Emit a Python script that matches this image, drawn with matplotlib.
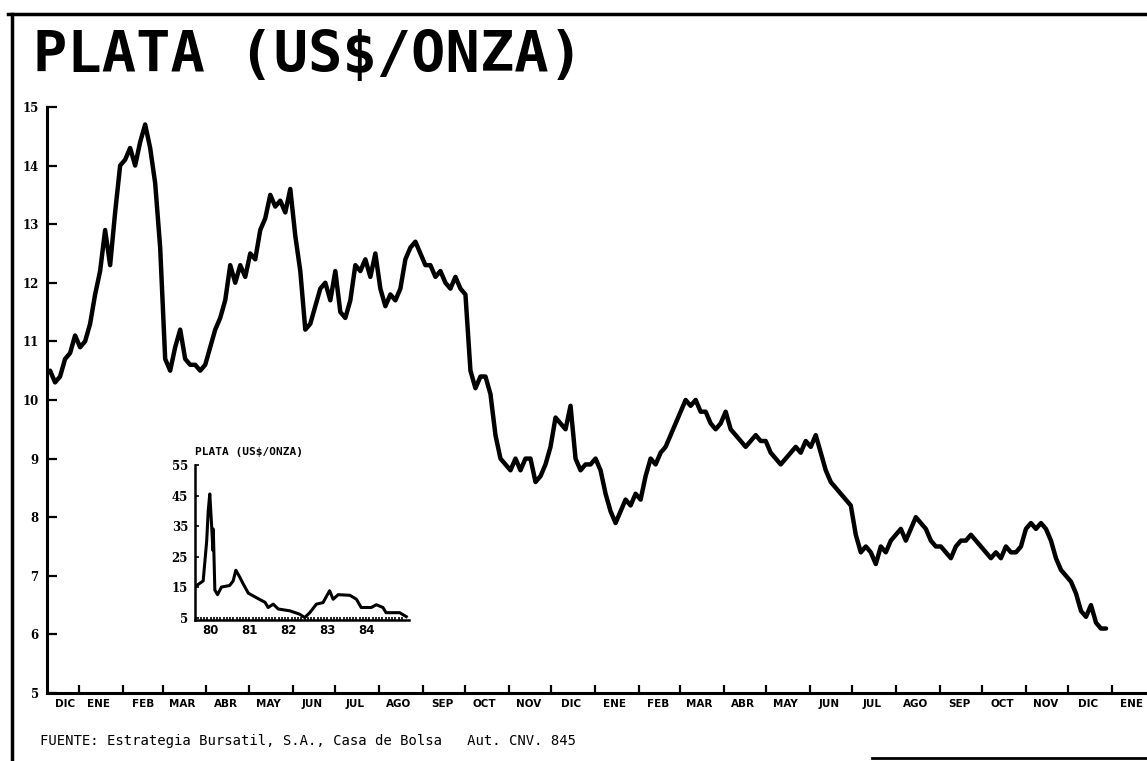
import numpy as np
import pandas as pd
import matplotlib
matplotlib.use("Agg")
import matplotlib.pyplot as plt
from matplotlib.lines import Line2D

# ---------------- data ----------------
title = "PLATA (US$/ONZA)"
footer = "FUENTE: Estrategia Bursatil, S.A., Casa de Bolsa   Aut. CNV. 845"

month_labels = ["DIC", "ENE", "FEB", "MAR", "ABR", "MAY", "JUN", "JUL", "AGO", "SEP", "OCT", "NOV",
                "DIC", "ENE", "FEB", "MAR", "ABR", "MAY", "JUN", "JUL", "AGO", "SEP", "OCT", "NOV",
                "DIC", "ENE"]
y_ticks = [5, 6, 7, 8, 9, 10, 11, 12, 13, 14, 15]

# silver price (US$/oz), Dec 1982 - Dec 1984 (~twice a week)
price = [
    10.5, 10.3, 10.4, 10.7, 10.8, 11.1, 10.9, 11.0, 11.3, 11.8,
    12.2, 12.9, 12.3, 13.2, 14.0, 14.1, 14.3, 14.0, 14.4, 14.7,
    14.3, 13.7, 12.6, 10.7, 10.5, 10.9, 11.2, 10.7, 10.6, 10.6,
    10.5, 10.6, 10.9, 11.2, 11.4, 11.7, 12.3, 12.0, 12.3, 12.1,
    12.5, 12.4, 12.9, 13.1, 13.5, 13.3, 13.4, 13.2, 13.6, 12.8,
    12.2, 11.2, 11.3, 11.6, 11.9, 12.0, 11.7, 12.2, 11.5, 11.4,
    11.7, 12.3, 12.2, 12.4, 12.1, 12.5, 11.9, 11.6, 11.8, 11.7,
    11.9, 12.4, 12.6, 12.7, 12.5, 12.3, 12.3, 12.1, 12.2, 12.0,
    11.9, 12.1, 11.9, 11.8, 10.5, 10.2, 10.4, 10.4, 10.1, 9.4,
    9.0, 8.9, 8.8, 9.0, 8.8, 9.0, 9.0, 8.6, 8.7, 8.9,
    9.2, 9.7, 9.6, 9.5, 9.9, 9.0, 8.8, 8.9, 8.9, 9.0,
    8.8, 8.4, 8.1, 7.9, 8.1, 8.3, 8.2, 8.4, 8.3, 8.7,
    9.0, 8.9, 9.1, 9.2, 9.4, 9.6, 9.8, 10.0, 9.9, 10.0,
    9.8, 9.8, 9.6, 9.5, 9.6, 9.8, 9.5, 9.4, 9.3, 9.2,
    9.3, 9.4, 9.3, 9.3, 9.1, 9.0, 8.9, 9.0, 9.1, 9.2,
    9.1, 9.3, 9.2, 9.4, 9.1, 8.8, 8.6, 8.5, 8.4, 8.3,
    8.2, 7.7, 7.4, 7.5, 7.4, 7.2, 7.5, 7.4, 7.6, 7.7,
    7.8, 7.6, 7.8, 8.0, 7.9, 7.8, 7.6, 7.5, 7.5, 7.4,
    7.3, 7.5, 7.6, 7.6, 7.7, 7.6, 7.5, 7.4, 7.3, 7.4,
    7.3, 7.5, 7.4, 7.4, 7.5, 7.8, 7.9, 7.8, 7.9, 7.8,
    7.6, 7.3, 7.1, 7.0, 6.9, 6.7, 6.4, 6.3, 6.5, 6.2,
    6.1, 6.1,
]
dates = pd.date_range("1982-12-11 09:00", periods=len(price), freq="85h")

# inset: long-term series 1979-1984
inset_years = [1979.64, 1979.81, 1979.90, 1979.94, 1979.98, 1980.03, 1980.06, 1980.07,
               1980.11, 1980.18, 1980.28, 1980.49, 1980.58, 1980.65, 1980.74, 1980.84,
               1980.97, 1981.18, 1981.40, 1981.48, 1981.61, 1981.74, 1982.04, 1982.29,
               1982.42, 1982.55, 1982.72, 1982.89, 1983.06, 1983.15, 1983.28, 1983.58,
               1983.75, 1983.87, 1984.13, 1984.26, 1984.43, 1984.51, 1984.86, 1985.03]
inset_values = [15.5, 17.0, 30.0, 40.0, 45.5, 34.5, 27.0, 34.0,
                14.0, 12.5, 15.0, 15.5, 17.0, 20.5, 18.5, 16.0,
                13.0, 11.5, 10.0, 8.3, 9.4, 7.8, 7.2, 6.1,
                5.0, 6.6, 9.4, 9.9, 13.8, 11.0, 12.5, 12.3,
                11.0, 8.3, 8.3, 9.2, 8.3, 6.6, 6.6, 5.3]
inset_yticks = [5, 15, 25, 35, 45, 55]
inset_xticks = [1980, 1981, 1982, 1983, 1984]
inset_xlabels = ["80", "81", "82", "83", "84"]

# ---------------- figure ----------------
W, H = 1147, 761
fig = plt.figure(figsize=(W / 100, H / 100), dpi=100)
fig.patch.set_facecolor("white")

def fx(px):
    return px / W

def fy(py):
    return 1 - py / H

ax = fig.add_axes([fx(47), fy(693), fx(1150) - fx(47), fy(104) - fy(693)])
ax.plot(dates, price, color="black", lw=3.2, solid_joinstyle="round", solid_capstyle="round")

x0 = pd.Timestamp("1982-12-01") + pd.Timedelta(days=8.2)
x1 = pd.Timestamp("1982-12-01") + pd.Timedelta(days=788.8)
ax.set_xlim(x0, x1)
ax.set_ylim(5, 15.05)

for s in ["top", "right"]:
    ax.spines[s].set_visible(False)
for s in ["left", "bottom"]:
    ax.spines[s].set_linewidth(2.2)
ax.spines["left"].set_bounds(5, 15)

ax.set_yticks(y_ticks)
ax.set_yticklabels([str(v) for v in y_ticks], fontsize=8.5, fontweight="bold",
                   family="DejaVu Serif")
ax.tick_params(axis="y", direction="in", length=7, width=1.6, pad=6)

month_starts = pd.date_range("1983-01-01", "1985-01-01", freq="MS")
ax.set_xticks(month_starts)
ax.set_xticklabels([])
ax.tick_params(axis="x", which="major", direction="in", length=6, width=1.6)
mids = []
for i in range(len(month_labels)):
    if i == 0:
        mids.append(pd.Timestamp(1982, 12, 22))
    else:
        yr = 1983 + (i - 1) // 12
        mo = (i - 1) % 12 + 1
        mids.append(pd.Timestamp(yr, mo, 15))
ax.set_xticks(mids, minor=True)
ax.set_xticklabels(month_labels, minor=True, fontsize=7.5, fontweight="bold")
ax.tick_params(axis="x", which="minor", length=0, pad=4)

# ---------------- inset ----------------
axi = fig.add_axes([fx(195), fy(620), fx(409) - fx(195), fy(465) - fy(620)])
axi.patch.set_alpha(0)
axi.plot(inset_years, inset_values, color="black", lw=2.2, solid_joinstyle="round")
axi.set_xlim(1979.6, 1985.1)
axi.set_ylim(4.2, 55)
for s in ["top", "right"]:
    axi.spines[s].set_visible(False)
for s in ["left", "bottom"]:
    axi.spines[s].set_linewidth(1.8)
axi.set_yticks(inset_yticks)
axi.set_yticklabels([str(v) for v in inset_yticks], fontsize=8.5, fontweight="bold",
                    family="DejaVu Serif")
axi.tick_params(axis="y", direction="in", length=3, width=1.2, pad=5)
axi.set_xticks(inset_xticks)
axi.set_xticklabels(inset_xlabels, fontsize=8.5, fontweight="bold")
axi.set_xticks(np.arange(1979.75, 1985.0, 1 / 12), minor=True)
axi.tick_params(axis="x", which="both", direction="in", length=2.5, width=1.2, pad=3)
axi.text(0.0, 1.05, title, transform=axi.transAxes, fontsize=8, fontweight="bold",
         family="DejaVu Sans Mono", ha="left", va="bottom")

# ---------------- texts & frame ----------------
fig.text(fx(33), fy(72), title, fontsize=41, family="DejaVu Sans Mono", fontweight="bold",
         ha="left", va="baseline")
fig.text(fx(40), fy(741), footer, fontsize=10, family="DejaVu Sans Mono",
         ha="left", va="center")

fig.add_artist(Line2D([fx(8), fx(1147)], [fy(14), fy(14)], color="black", lw=2.5))
fig.add_artist(Line2D([fx(12), fx(12)], [fy(14), fy(761)], color="black", lw=2.5))
fig.add_artist(Line2D([fx(872), fx(1147)], [fy(758), fy(758)], color="black", lw=2.0))

fig.savefig("out.png", dpi=100, facecolor="white")
